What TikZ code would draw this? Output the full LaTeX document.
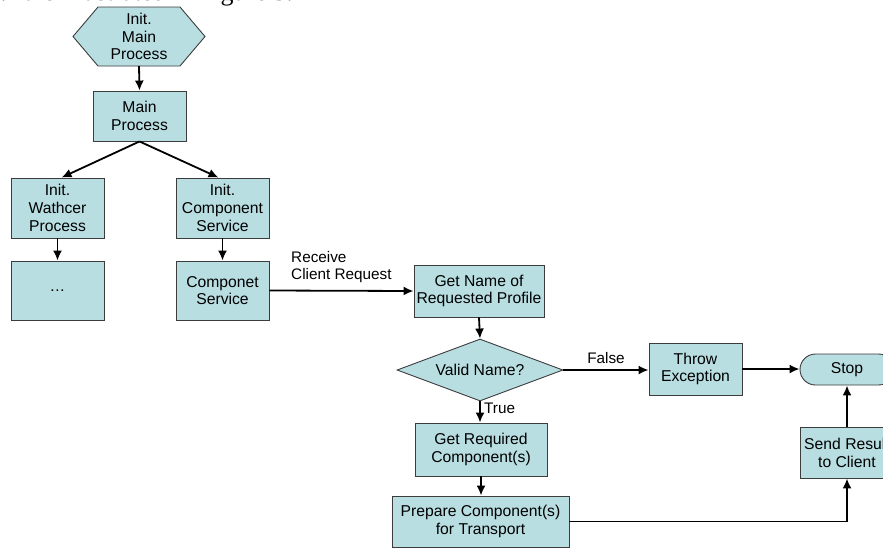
\documentclass[tikz,border=0pt]{standalone}
\usepackage{fontspec}
\setmainfont{Liberation Sans}
\newfontfamily\serifcap{Liberation Serif}
\usetikzlibrary{arrows.meta,shapes.geometric,shapes.misc}
\definecolor{boxfill}{RGB}{184,222,226}
\definecolor{boxline}{RGB}{60,60,60}
\begin{document}
\begin{tikzpicture}[x=1pt,y=-1pt,
  every node/.style={font=\fontsize{15.7}{17.8}\selectfont, align=center, inner sep=0pt},
  proc/.style={draw=boxline, fill=boxfill, line width=0.9pt, rectangle},
  decis/.style={draw=boxline, fill=boxfill, line width=0.9pt, diamond, aspect=2.68},
  term/.style={draw=boxline, fill=boxfill, line width=0.9pt, rounded rectangle},
  conn/.style={line width=1.8pt, -{Latex[length=10pt,width=9pt]}},
  lbl/.style={font=\fontsize{15.3}{17.5}\selectfont}
]
\useasboundingbox (0,0) rectangle (883,547);
\clip (0,0) rectangle (883,547);

% cut-off caption line above the figure
\node[anchor=base east, font=\serifcap\fontsize{26}{28}\selectfont] (cap) at (293,0.5) {1. It is illustrated in Figure 3.};

% hexagon
\draw[draw=boxline, fill=boxfill, line width=0.9pt]
  (73,36.5) -- (98,7) -- (180,7) -- (205,36.5) -- (180,66) -- (98,66) -- cycle;
\node[minimum width=132pt, minimum height=59pt] (hex) at (139,36.5) {Init.\\Main\\Process};

\node[proc, minimum width=93pt, minimum height=50pt] (main) at (139.5,116) {Main\\Process};
\node[proc, minimum width=93pt, minimum height=60pt] (watch) at (57.5,208) {Init.\\Wathcer\\Process};
\node[proc, minimum width=93pt, minimum height=59pt] (dots) at (57.5,290.5) {\ldots};
\node[proc, minimum width=93pt, minimum height=60pt] (initcomp) at (222.5,208) {Init.\\Component\\Service};
\node[proc, minimum width=93pt, minimum height=59pt] (compserv) at (222.5,290.5) {Componet\\Service};
\node[proc, minimum width=130pt, minimum height=52pt] (getname) at (479,291) {Get Name of\\Requested Profile};
\node[decis, minimum width=166pt, minimum height=62pt] (valid) at (480,370) {Valid Name?};
\node[proc, minimum width=93pt, minimum height=52pt] (throw) at (695.5,369) {Throw\\Exception};
\node[term, minimum width=94pt, minimum height=31pt] (stop) at (847,369.5) {Stop};
\node[proc, minimum width=132pt, minimum height=53pt] (getreq) at (481,449.5) {Get Required\\Component(s)};
\node[proc, minimum width=177pt, minimum height=51pt] (prep) at (480.5,521.5) {Prepare Component(s)\\for Transport};
\node[proc, minimum width=94pt, minimum height=51pt] (send) at (847,452.5) {Send Result\\to Client};

% connectors
\draw[conn] (hex.south) -- (main.north);
\draw[conn] (main.south) -- ([xshift=4pt]watch.north);
\draw[conn] (main.south) -- ([xshift=-4pt]initcomp.north);
\draw[conn] (watch.south) -- (dots.north);
\draw[conn] (initcomp.south) -- (compserv.north);
\draw[conn] (compserv.east) -- (getname.west);
\draw[conn] (getname.south) -- (valid.north);
\draw[conn] (valid.east) -- (valid.east -| throw.west);
\draw[conn] (valid.south) -- (valid.south |- getreq.north);
\draw[conn] (getreq.south) -- (getreq.south |- prep.north);
\draw[conn] (throw.east) -- (throw.east -| stop.west);
\draw[conn] (send.north) -- (stop.south);
\draw[conn] (prep.east) -| (send.south);

% labels
\node[lbl, anchor=west, align=left] (lrecv) at (291,267) {Receive\\Client Request};
\node[lbl] (lfalse) at (606,358) {False};
\node[lbl, anchor=west] (ltrue) at (484,408.5) {True};
\end{tikzpicture}
\end{document}
